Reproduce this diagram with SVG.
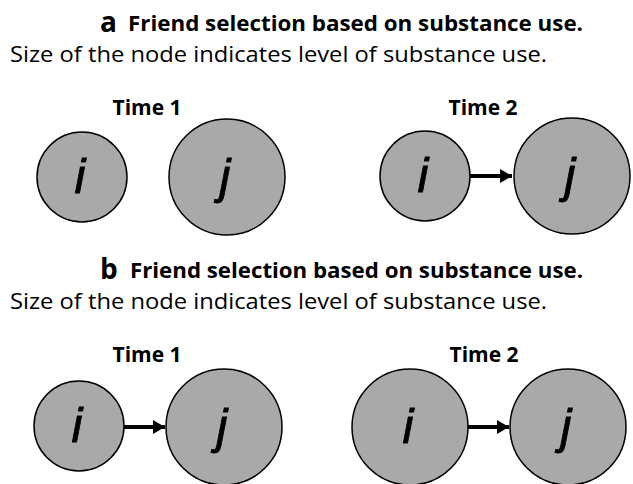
<svg xmlns="http://www.w3.org/2000/svg" width="633" height="484" viewBox="0 0 633 484">
<style>
.title{font-family:"Open Sans","Liberation Sans",sans-serif;font-weight:bold;font-size:22px;fill:#000}
.letter{font-family:"Open Sans","Liberation Sans",sans-serif;font-weight:bold;font-size:28px;fill:#000}
.sub{font-family:"Open Sans","Liberation Sans",sans-serif;font-size:22px;fill:#000}
.time{font-family:"Open Sans","Liberation Sans",sans-serif;font-weight:bold;font-size:21px;fill:#000;text-anchor:middle}
.node circle{fill:#a9a9a9;stroke:#000;stroke-width:1.5}
.node text{font-family:"Liberation Sans",sans-serif;font-style:italic;font-size:49px;fill:#000;stroke:#000;stroke-width:0.8;text-anchor:middle}
.edge{stroke:#000;stroke-width:4;fill:none;marker-end:url(#arr)}
</style>
<defs>
<marker id="arr" viewBox="0 0 12 14" refX="12" refY="7" markerWidth="12" markerHeight="14" orient="auto" markerUnits="userSpaceOnUse">
<path d="M0,0 L12,7 L0,14 z" fill="#000"/>
</marker>
</defs>
<g id="labels">
<text class="letter" x="100" y="32">a</text>
<text class="title" x="128" y="31" textLength="455" lengthAdjust="spacingAndGlyphs">Friend selection based on substance use.</text>
<text class="sub" x="10" y="62" textLength="537" lengthAdjust="spacingAndGlyphs">Size of the node indicates level of substance use.</text>
<text class="time" x="147" y="115">Time 1</text>
<text class="time" x="483" y="115">Time 2</text>
<text class="letter" x="100" y="279">b</text>
<text class="title" x="130" y="278" textLength="453" lengthAdjust="spacingAndGlyphs">Friend selection based on substance use.</text>
<text class="sub" x="10" y="309" textLength="537" lengthAdjust="spacingAndGlyphs">Size of the node indicates level of substance use.</text>
<text class="time" x="147" y="362">Time 1</text>
<text class="time" x="484" y="362">Time 2</text>
</g>
<g id="connectors">
<line class="edge" x1="470" y1="176" x2="512" y2="176"/>
<line class="edge" x1="124" y1="427" x2="165" y2="427"/>
<line class="edge" x1="468" y1="427" x2="509" y2="427"/>
</g>
<g id="a-t1-i" class="node"><circle cx="82" cy="177" r="45"/><text x="80" y="193">i</text></g>
<g id="a-t1-j" class="node"><circle cx="227" cy="177" r="58"/><text x="225" y="193">j</text></g>
<g id="a-t2-i" class="node"><circle cx="425" cy="176" r="45"/><text x="423" y="192">i</text></g>
<g id="a-t2-j" class="node"><circle cx="572" cy="176" r="58"/><text x="570" y="192">j</text></g>
<g id="b-t1-i" class="node"><circle cx="79" cy="426" r="45"/><text x="77" y="442">i</text></g>
<g id="b-t1-j" class="node"><circle cx="224" cy="427" r="58"/><text x="222" y="443">j</text></g>
<g id="b-t2-i" class="node"><circle cx="410" cy="427" r="58"/><text x="408" y="443">i</text></g>
<g id="b-t2-j" class="node"><circle cx="568" cy="427" r="58"/><text x="566" y="443">j</text></g>
</svg>
